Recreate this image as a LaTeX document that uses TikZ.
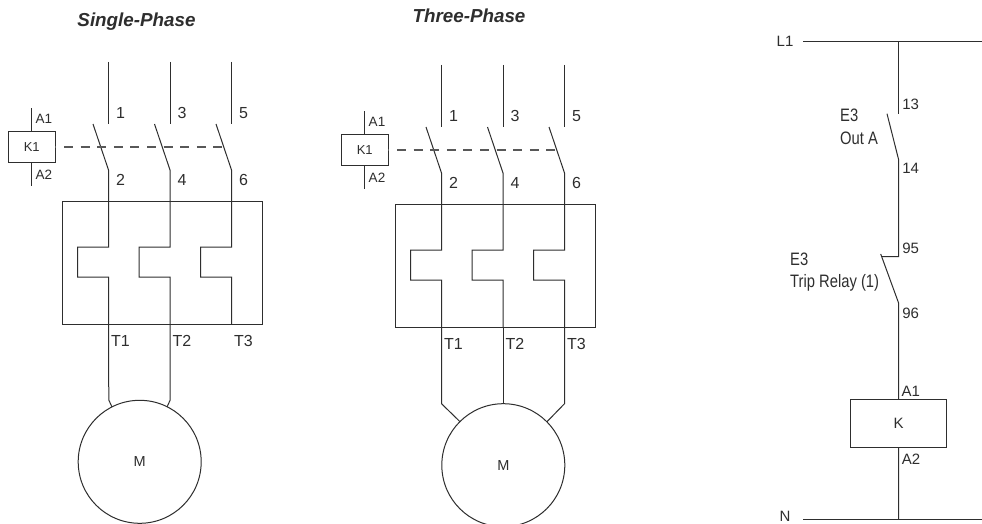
\documentclass[tikz,border=0pt]{standalone}
\usepackage{fontspec}
\setmainfont{Liberation Sans}
\newfontfamily\narrowfont[FakeStretch=0.82]{Liberation Sans}
\newcommand{\fs}[1]{\fontsize{#1}{#1}\selectfont}
\definecolor{ink}{HTML}{2E2E2E}
\tikzset{
  wire/.style={draw=ink,line width=1pt,line join=miter},
  linkdash/.style={draw=ink!80,line width=1.1pt,dash pattern=on 9pt off 7.6pt,dash phase=-9pt},
  boxnode/.style={draw=ink,line width=1pt,inner sep=0pt,outer sep=0pt,text=ink},
  motor/.style={circle,draw=ink,line width=1pt,minimum size=123pt,inner sep=0pt,outer sep=0pt,text=ink,font=\fs{14.5}},
  coil/.style={boxnode,minimum width=46.5pt,minimum height=31pt,font=\fs{13}},
  lbl/.style={inner sep=0pt,text=ink,font=\fs{16}},
  small/.style={inner sep=0pt,text=ink,font=\fs{13.5}},
  tlbl/.style={inner sep=0pt,text=ink,font=\fs{16}},
  nlbl/.style={inner sep=0pt,text=ink,font=\fs{15}},
  cond/.style={inner sep=0pt,anchor=west,text=ink,font=\narrowfont\fs{18}},
  heading/.style={inner sep=0pt,text=ink,font=\bfseries\itshape\fs{18.8}},
}
% contactor, coil and overload block shared by both starters (coordinates of the single-phase one)
\newcommand{\starterblock}{%
  \node[boxnode,minimum width=200pt,minimum height=123pt] (ol) at (162.5,262.5) {};
  \node[coil] (k1) at (31.75,147) {K1};
  \coordinate (ka1) at (31.75,108.5);
  \coordinate (ka2) at (31.75,185.5);
  \draw[wire] (ka1) -- (k1.north);
  \draw[wire] (k1.south) -- (ka2);
  \node[small] (la1) at (44,118.5) {A1};
  \node[small] (la2) at (44,175) {A2};
  \foreach \i/\x/\a/\b/\t in {1/108.5/1/2/T1,2/170/3/4/T2,3/231.5/5/6/T3}{
    \coordinate (top\i) at (\x,62);
    \coordinate (fix\i) at (\x,124);
    \coordinate (open\i) at (\x-15.5,124);
    \coordinate (hinge\i) at (\x,170);
    \coordinate (bendA\i) at (\x,247);
    \coordinate (bendB\i) at (\x-31,247);
    \coordinate (bendC\i) at (\x-31,277);
    \coordinate (bendD\i) at (\x,277);
    \coordinate (out\i) at (\x,324);
    \draw[wire] (top\i) -- (fix\i);
    \draw[wire] (open\i) -- (hinge\i) -- (bendA\i) -- (bendB\i) -- (bendC\i) -- (bendD\i) -- (out\i);
    \node[lbl] (n\a) at (\x+12,113) {\a};
    \node[lbl] (n\b) at (\x+12,180) {\b};
    \node[tlbl] (l\t) at (\x+12,341) {\t};
  }
  \coordinate (dashend) at (224.5,147);
  \draw[linkdash] (k1.east) -- (dashend);
}
\begin{document}
\begin{tikzpicture}[x=1pt,y=-1pt]
\clip (0,0) rectangle (982,524);
\fill[white] (0,0) rectangle (982,524);

% Single-phase
\begin{scope}[name prefix=s-]
  \node[heading] (title) at (136.5,21.5) {Single-Phase};
  \starterblock
  \node[motor] (m) at (139.7,461.8) {M};
  \coordinate (w1) at (108.8,400);
  \coordinate (w2) at (170.2,400);
  \draw[wire] (s-out1) -- (w1) -- (112,407);
  \draw[wire] (s-out2) -- (w2) -- (167,407);
\end{scope}

% Three-phase
\begin{scope}[shift={(333,3)},name prefix=t-]
  \node[heading] (title) at (136,13) {Three-Phase};
  \starterblock
  \node[motor] (m) at (170.3,462.2) {M};
  \coordinate (w1) at (108.5,400.7);
  \coordinate (w3) at (231.5,400.7);
  \coordinate (a1) at (127,418.7);
  \coordinate (a3) at (214,418.7);
  \draw[wire] (t-out1) -- (w1) -- (a1);
  \draw[wire] (t-out2) -- (170,400.7);
  \draw[wire] (t-out3) -- (w3) -- (a3);
\end{scope}

% Control circuit
\node[nlbl] (l1) at (785,41.5) {L1};
\node[nlbl] (nn) at (785,516.8) {N};
\coordinate (l1a) at (803,41.5);
\coordinate (l1b) at (982,41.5);
\coordinate (na) at (803,519);
\coordinate (nb) at (982,519);
\coordinate (l1j) at (898.7,41.5);
\coordinate (c13) at (898.7,113.7);
\coordinate (b13) at (887,113.7);
\coordinate (c14) at (898.7,160);
\coordinate (c95) at (898.7,256.7);
\coordinate (b95) at (882,256.7);
\coordinate (b95t) at (880.7,254);
\coordinate (c96) at (898.7,303.3);
\coordinate (nj) at (898.7,519);
\node[boxnode,minimum width=95.6pt,minimum height=48pt,font=\fs{15}] (k) at (898.5,423.7) {K};
\draw[wire] (l1a) -- (l1b);
\draw[wire] (na) -- (nb);
\draw[wire] (l1j) -- (c13);
\draw[wire] (b13) -- (c14) -- (c95) -- (b95);
\draw[wire] (b95t) -- (c96) -- (k.north);
\draw[wire] (k.south) -- (nj);
\node[nlbl] (n13) at (910.7,104.7) {13};
\node[nlbl] (n14) at (910.7,168.3) {14};
\node[nlbl] (n95) at (910.7,248.3) {95};
\node[nlbl] (n96) at (910.7,313.3) {96};
\node[nlbl] (ka1) at (910.7,391.7) {A1};
\node[nlbl] (ka2) at (911,459) {A2};
\node[cond] (e3a) at (840,115) {E3};
\node[cond] (out) at (840,138) {Out A};
\node[cond] (e3b) at (790,259) {E3};
\node[cond] (trip) at (790,283) {Trip Relay (1)};
\end{tikzpicture}
\end{document}
